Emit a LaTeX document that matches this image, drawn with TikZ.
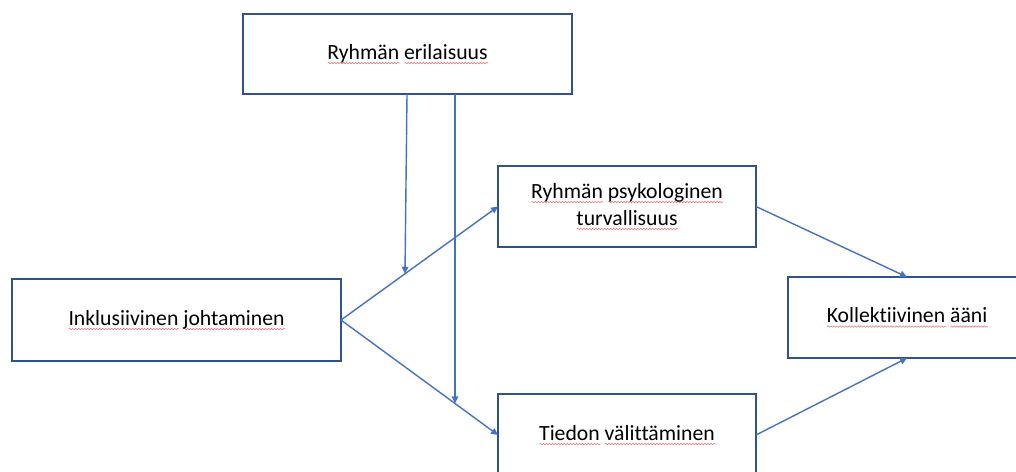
\documentclass[tikz,border=0pt]{standalone}
\usepackage{fontspec}
\setmainfont{Carlito}[Ligatures=NoCommon]
\usetikzlibrary{arrows.meta,calc,decorations.pathmorphing}
\definecolor{boxline}{HTML}{2F528F}
\definecolor{arrowline}{HTML}{4472C4}
\definecolor{sqred}{HTML}{F07878}
% spell-check style wavy underline under a word
\newlength\sqwd
\newcommand\sq[1]{\settowidth\sqwd{#1}\leavevmode\rlap{\tikz[baseline=0pt,x=1pt,y=1pt]\draw[sqred,line width=0.6pt,decorate,decoration={snake,amplitude=0.7pt,segment length=3pt}] (0pt,-4pt) -- (\sqwd,-4pt);}#1}
\tikzset{
  box/.style={draw=boxline, line width=1.6pt, fill=white, inner sep=0pt, outer sep=0pt,
    align=center, font=\fontsize{21.7}{27}\selectfont, text=black},
  arr/.style={draw=arrowline, line width=1.4pt, -{Triangle[length=7pt,width=6.5pt]}}
}
\begin{document}
\begin{tikzpicture}[x=1pt,y=-1pt]
\useasboundingbox (0,0) rectangle (1016,471);
\fill[white] (0,0) rectangle (1016,471);
\clip (0,0) rectangle (1016,471);

\node[box, minimum width=329pt, minimum height=80pt] (div)  at (407.5,54)  {\sq{Ryhmän} \sq{erilaisuus}};
\node[box, minimum width=258pt, minimum height=81pt] (psyk) at (627,206.5) {\sq{Ryhmän} \sq{psykologinen}\\\sq{turvallisuus}};
\node[box, minimum width=329pt, minimum height=82pt] (inkl) at (176.5,320) {\sq{Inklusiivinen} \sq{johtaminen}};
\node[box, minimum width=258pt, minimum height=82pt] (tied) at (627,435)   {\sq{Tiedon} \sq{välittäminen}};
\node[box, minimum width=238pt, minimum height=81pt] (koll) at (907,317.5) {\sq{Kollektiivinen} \sq{ääni}};

% points where the moderating arrows meet the paths
\coordinate (m1) at ($(inkl.east)!0.4076!(psyk.west)$);
\coordinate (m2) at ($(inkl.east)!0.726!(tied.west)$);

\draw[arr] (inkl.east) -- (psyk.west);
\draw[arr] (inkl.east) -- (tied.west);
\draw[arr] ([xshift=-0.5pt]div.south) -- (m1);
\draw[arr] (m2 |- div.south) -- (m2);
\draw[arr] (psyk.east) -- (koll.north);
\draw[arr] (tied.east) -- (koll.south);
\end{tikzpicture}
\end{document}
